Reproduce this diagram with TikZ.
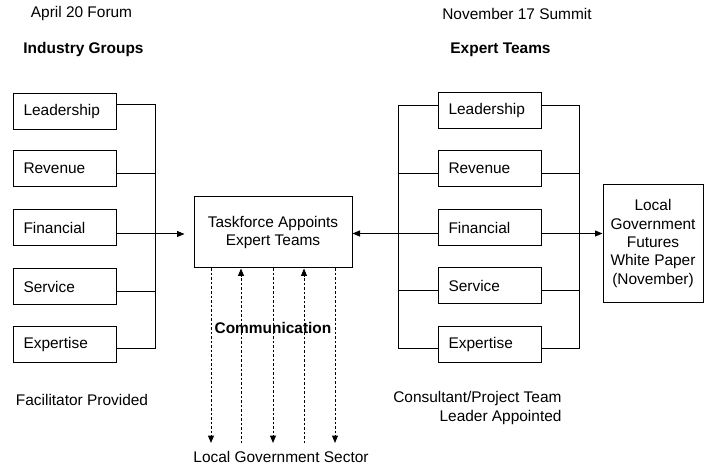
\documentclass[tikz,border=0pt]{standalone}
\usepackage{fontspec}
\setmainfont{Liberation Sans}
\usetikzlibrary{arrows.meta}
\begin{document}
\begin{tikzpicture}[x=1bp,y=-1bp,
  font=\fontsize{15.5}{18.5}\selectfont, line width=1bp,
  box/.style={draw, minimum width=103bp, minimum height=36bp, text width=83bp,
              inner xsep=10bp, inner ysep=0bp, align=left, anchor=north west},
  tip/.style={-{Triangle[length=7.5bp,width=6bp]}},
  comm/.style={dash pattern=on 2.5bp off 2bp},
  lbl/.style={inner sep=0bp}]
\useasboundingbox (0,0) rectangle (704,470);

% headers
\node[lbl] (h1) at (81.5,14) {April 20 Forum};
\node[lbl] (h2) at (83.5,50) {\textbf{Industry Groups}};
\node[lbl] (h3) at (517,14) {November 17 Summit};
\node[lbl] (h4) at (500.5,50) {\textbf{Expert Teams}};

% left boxes
\node[box] (L1) at (13,93)  {Leadership};
\node[box] (L2) at (13,150) {Revenue};
\node[box] (L3) at (13,209) {Financial};
\node[box] (L4) at (13,268) {Service};
\node[box] (L5) at (13,326) {Expertise};

% right boxes
\node[box] (R1) at (438,92)  {Leadership};
\node[box] (R2) at (438,150) {Revenue};
\node[box] (R3) at (438,209) {Financial};
\node[box] (R4) at (438,267) {Service};
\node[box] (R5) at (438,326) {Expertise};

% centre and white paper
\node[draw, minimum width=158bp, minimum height=71bp, align=center] (T) at (273,232.5)
  {Taskforce Appoints\\Expert Teams};
\node[draw, minimum width=100bp, minimum height=117bp, align=center, inner sep=0bp] (W) at (653,243.5)
  {Local\\Government\\Futures\\White Paper\\(November)};

% bottom labels
\node[lbl] (f1) at (82,400) {Facilitator Provided};
\node[lbl, align=right, anchor=east] (f2) at (562,408) {Consultant/Project Team\\Leader Appointed};
\node[lbl] (cm) at (273,328) {\textbf{Communication}};
\node[lbl] (lgs) at (281,457) {Local Government Sector};

% left bus
\coordinate (lb1) at (155,105);
\coordinate (lb2) at (155,174);
\coordinate (lb4) at (155,292);
\coordinate (lb5) at (155,348);
\coordinate (fyl) at (0,234);
\draw (L1.east |- lb1) -- (lb1) -- (lb5) -- (L5.east |- lb5);
\draw (L2.east |- lb2) -- (lb2);
\draw (L4.east |- lb4) -- (lb4);
\draw[tip, shorten >=9bp] (L3.east |- fyl) -- (T.west |- fyl);

% right buses
\coordinate (rl1) at (398,106);
\coordinate (rl2) at (398,174);
\coordinate (rl4) at (398,291);
\coordinate (rl5) at (398,348);
\coordinate (rr1) at (579,106);
\coordinate (rr2) at (579,174);
\coordinate (rr4) at (579,291);
\coordinate (rr5) at (579,348);
\coordinate (fyr) at (0,233.5);
\draw (R1.west |- rl1) -- (rl1) -- (rl5) -- (R5.west |- rl5);
\draw (R2.west |- rl2) -- (rl2);
\draw (R4.west |- rl4) -- (rl4);
\draw (R1.east |- rr1) -- (rr1) -- (rr5) -- (R5.east |- rr5);
\draw (R2.east |- rr2) -- (rr2);
\draw (R4.east |- rr4) -- (rr4);
\draw[tip] (R3.west |- fyr) -- (T.east |- fyr);
\draw[tip] (R3.east |- fyr) -- (W.west |- fyr);

% communication arrows
\coordinate (c1) at (211,443);
\coordinate (c2) at (241,443);
\coordinate (c3) at (273,443);
\coordinate (c4) at (304,443);
\coordinate (c5) at (335,443);
\draw[comm, tip] (T.south -| c1) -- (c1);
\draw[comm, tip] (c2) -- (T.south -| c2);
\draw[comm, tip] (T.south -| c3) -- (c3);
\draw[comm, tip] (c4) -- (T.south -| c4);
\draw[comm, tip] (T.south -| c5) -- (c5);
\end{tikzpicture}
\end{document}
